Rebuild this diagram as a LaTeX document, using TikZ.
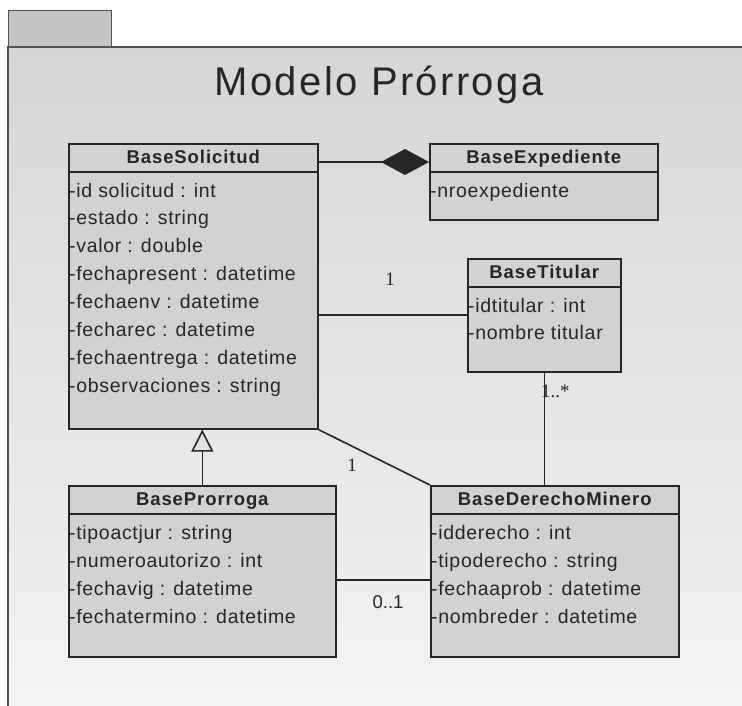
\documentclass[tikz,border=0pt]{standalone}
\usepackage{fontspec}
\setmainfont{Liberation Sans}
\newfontfamily\numfont{Liberation Serif}
\usetikzlibrary{arrows.meta,calc}
\definecolor{ink}{HTML}{262626}
\definecolor{classfill}{HTML}{D2D2D2}
\definecolor{pkgtop}{HTML}{D6D6D6}
\definecolor{pkgbottom}{HTML}{F4F4F4}
\tikzset{
  classbox/.style={draw=ink, line width=1.6pt, fill=classfill, anchor=north west, inner sep=0pt},
  hdr/.style={font=\fontsize{18.5}{21}\selectfont\bfseries\addfontfeature{LetterSpace=5}, text=ink, inner sep=0pt, text height=13pt, text depth=4pt},
  attr/.style={font=\fontsize{19.5}{22}\selectfont\addfontfeature{LetterSpace=3.5}, text=ink, anchor=west, inner sep=0pt, text height=14pt, text depth=2pt},
  mult/.style={font=\fontsize{19}{22}\selectfont\numfont, text=ink, inner sep=0pt},
  link/.style={draw=ink, line width=1.6pt},
  comp/.style={link, -{Diamond[length=48pt,width=26pt,fill=ink]}},
  gen/.style={link, -{Triangle[open,length=22pt,width=22pt,fill=pkgtop!70!white]}},
}
\newcommand{\classhead}[2]{%
  \draw[link] ([yshift=-29pt]#1.north west) -- ([yshift=-29pt]#1.north east);
  \node[hdr] (#1-name) at ([yshift=-16pt]#1.north) {#2};
}
\begin{document}
\begin{tikzpicture}[x=1pt,y=-1pt]
\useasboundingbox (0,0) rectangle (742,706);
\clip (0,0) rectangle (742,706);
\fill[white] (0,0) rectangle (742,706);

% package frame with its tab
\node[draw=ink!80, line width=1.4pt, fill=pkgtop!92!black, anchor=north west, minimum width=103pt, minimum height=37pt, inner sep=0pt] (tab) at (8,10) {};
\shade[top color=pkgtop, bottom color=pkgbottom] (8,47) rectangle (760,720);
\draw[ink!80, line width=1.4pt] (760,47) -- (8,47) -- (8,720);
\node[font=\fontsize{40}{44}\selectfont\addfontfeature{LetterSpace=6}, text=ink, inner sep=0pt] (title) at (379,85) {Modelo Prórroga};

% classes
\node[classbox, minimum width=249pt, minimum height=285pt] (sol) at (68,143) {};
\classhead{sol}{BaseSolicitud}
\node[attr] at (69,191) {-id solicitud : int};
\node[attr] at (69,218) {-estado : string};
\node[attr] at (69,246) {-valor : double};
\node[attr] at (69,274) {-fechapresent : datetime};
\node[attr] at (69,302) {-fechaenv : datetime};
\node[attr] at (69,330) {-fecharec : datetime};
\node[attr] at (69,358) {-fechaentrega : datetime};
\node[attr] at (69,386) {-observaciones : string};

\node[classbox, minimum width=228pt, minimum height=76pt] (exp) at (429,143) {};
\classhead{exp}{BaseExpediente}
\node[attr] at (430,191) {-nroexpediente};

\node[classbox, minimum width=153pt, minimum height=113pt] (tit) at (467,258) {};
\classhead{tit}{BaseTitular}
\node[attr] at (468,306) {-idtitular : int};
\node[attr] at (468,333) {-nombre titular};

\node[classbox, minimum width=267pt, minimum height=171pt] (pro) at (68,485) {};
\classhead{pro}{BaseProrroga}
\node[attr] at (69,533) {-tipoactjur : string};
\node[attr] at (69,561) {-numeroautorizo : int};
\node[attr] at (69,589) {-fechavig : datetime};
\node[attr] at (69,617) {-fechatermino : datetime};

\node[classbox, minimum width=248pt, minimum height=171pt] (der) at (430,485) {};
\classhead{der}{BaseDerechoMinero}
\node[attr] at (431,533) {-idderecho : int};
\node[attr] at (431,561) {-tipoderecho : string};
\node[attr] at (431,589) {-fechaaprob : datetime};
\node[attr] at (431,617) {-nombreder : datetime};

% relationships
\draw[comp] ([yshift=-19pt]sol.north east) -- ([yshift=-19pt]exp.north west);
\coordinate (tp) at ([yshift=-57pt]tit.north west);
\draw[link] (tp -| sol.east) -- (tp);
\draw[link] (tit.south) -- (tit.south |- der.north);
\draw[link] (sol.south east) -- (der.north west);
\coordinate (pp) at ([yshift=-95pt]pro.north east);
\draw[link] (pp) -- (pp -| der.west);
\draw[gen] (pro.north) -- (pro.north |- sol.south);

% multiplicities
\node[mult] (m1) at (390,279) {1};
\node[mult, anchor=west] (m2) at (541,391) {1..*};
\node[mult] (m3) at (352,465) {1};
\node[mult, font=\fontsize{18.5}{21}\selectfont] (m4) at (388,602) {0..1};
\end{tikzpicture}
\end{document}
